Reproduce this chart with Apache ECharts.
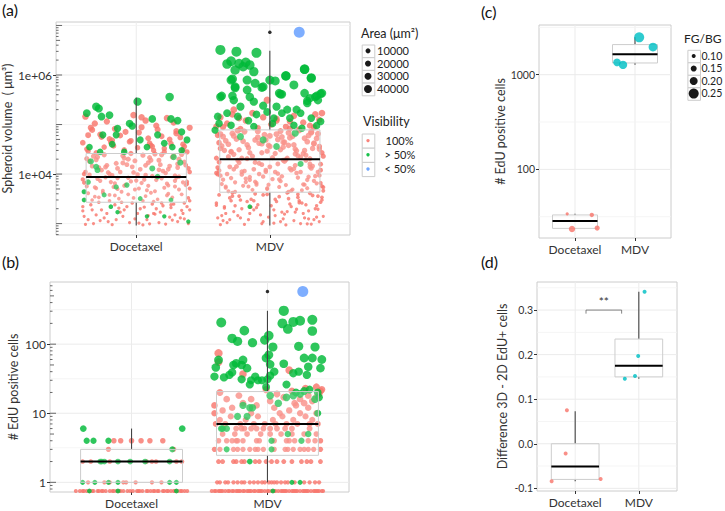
<!DOCTYPE html>
<html>
<head>
<meta charset="utf-8">
<script src="https://cdn.jsdelivr.net/npm/echarts@6/dist/echarts.min.js"></script>
<style>
html, body { margin: 0; padding: 0; background: #fff; }
#chart { width: 725px; height: 511px; }
</style>
</head>
<body>
<div id="chart"></div>
<script>
var groups = ['Docetaxel', 'MDV'];

// (a) spheroid volume in um^3, each point is [jitter, volume]
var volDocFull = [
  [-.38,9.6e2],[-.21,1.1e3],[.05,9.4e2],[.33,1.3e3],[-.07,2.2e3],[.18,1.7e3],[-.30,1.5e3],[.39,1e3],[.12,2.5e3],[-.15,1.2e3],
  [.26,2.1e3],[-.34,2.4e3],[.01,1.6e3],[.22,9.8e2],[-.26,1.9e3],[.36,2.6e3],[-.10,1.4e3],[.08,1.2e3],[-.40,1.8e3],[.29,1.5e3],
  [-.18,9.5e2],[.15,2e3],[-.03,2.6e3],[.31,1.1e3],[-.24,1.3e3],[.40,1.9e3],[-.12,1.7e3],[.10,9.9e2],[-.36,1.2e3],[.20,2.3e3],
  [-.05,1.05e3],[.35,1.6e3],[-.28,2.7e3],[.03,2e3],[.25,1.35e3],[-.16,2.4e3],[.14,1.55e3],[-.32,1e3],[.38,2.2e3],[-.09,1.9e3],
  [.17,1.05e3],[-.22,1.6e3],[.28,2.5e3],[-.01,1.25e3],[.06,2.15e3],
  [-.33,3e3],[.11,4.2e3],[-.17,5.5e3],[.27,3.4e3],[-.04,7.1e3],[.37,6e3],[-.25,4.6e3],[.19,8.2e3],[-.39,6.7e3],[.07,3.6e3],
  [.32,4.9e3],[-.13,3.2e3],[.23,6.4e3],[-.29,8e3],[.02,5.1e3],[-.20,3.8e3],[.40,2.9e3],[-.08,6.1e3],[.15,7.6e3],[-.36,4.1e3],
  [.30,8.5e3],[-.11,4.4e3],[.09,5.8e3],[-.27,7.3e3],[.34,3.9e3],[-.02,3.3e3],[.21,5.3e3],[-.37,5.7e3],[.13,2.8e3],[-.19,6.9e3],
  [.38,7e3],[-.06,8.4e3],[.24,4e3],[-.31,3.5e3],[.04,6.6e3],[-.14,5e3],[.29,5.6e3],[-.23,8.6e3],[.16,3.1e3],[-.40,7.8e3],
  [.08,4.7e3],[.35,6.8e3],[-.16,3.7e3],[.00,7.4e3],[-.30,5.2e3],
  [.12,9.1e3],[-.26,1.2e4],[.31,1.6e4],[-.09,2.1e4],[.22,1.05e4],[-.35,1.8e4],[.05,2.4e4],[.39,1.3e4],[-.18,9.5e3],[.17,1.9e4],
  [-.03,1.4e4],[-.32,2.3e4],[.27,2.2e4],[-.12,1.1e4],[.09,1.7e4],[-.39,1e4],[.34,2.5e4],[-.22,1.5e4],[.01,9.8e3],[.24,1.25e4],
  [-.06,2e4],[.36,1.75e4],[-.28,1.35e4],[.14,2.55e4],[-.15,1.65e4],[.20,1.15e4],[-.37,2.05e4],[.03,1.25e4],[.29,9.3e3],[-.24,2.45e4],
  [.10,2.15e4],[-.01,1.85e4],[.40,1.1e4],[-.33,1.45e4],[.18,1.55e4],[-.10,2.35e4],[.32,2e4],[-.20,1e4],[.07,1.5e4],[-.30,1.95e4],
  [.25,1.45e4],[-.14,1.3e4],
  [-.36,2.9e4],[.21,3.3e4],[-.05,4.5e4],[.33,5.5e4],[-.27,6.3e4],[.11,3.8e4],[-.16,8.2e4],[.38,2.8e4],[.02,6.9e4],[-.40,4.3e4],
  [.26,4.1e4],[-.09,3.1e4],[.15,9.5e4],[-.31,1.05e5],[.30,7.4e4],[-.20,5.1e4],[.07,1.2e5],[-.38,1.45e5],[.36,3.6e4],[-.12,6e4],
  [.19,5.8e4],[-.24,3.5e4],[.04,8.8e4],[.28,1.1e5],[-.02,1.55e5],[-.33,7.8e4],[.13,3e4],[.40,8.6e4],[-.18,4.8e4],[.23,1.35e5],
  [-.27,1.15e3],[.09,1.45e3],[.34,1.85e3],[-.13,2.05e3],[.19,2.6e3],[-.39,1.4e3],[.02,1.02e3],[.27,1.18e3],[-.20,2.9e3],[.39,3.3e3],
  [-.06,3.9e3],[.14,4.5e3],[-.31,5.4e3],[.24,5.9e3],[-.16,6.5e3],[.06,7.7e3],[.32,8.9e3],[-.35,9.7e3],[-.02,1.08e4],[.17,1.22e4],
  [-.23,1.38e4],[.37,1.52e4],[-.10,1.68e4],[.11,1.9e4],[-.29,2.2e4],[.28,2.35e4],[-.04,2.6e4],[.21,2.8e4],[-.37,3.2e4],[.01,3.4e4],
  [.35,4e4],[-.19,4.4e4],[.09,5.3e4],[-.26,5.6e4],[.30,6.6e4],[-.08,7.1e4],[.16,7.9e4],[-.34,8.6e4],[.04,1.4e5],[-.22,1.15e5],
  [.26,2.4e3],[-.11,2.7e3],[.36,1.25e3],[-.33,1.9e3],[.13,1.6e3],[-.01,4.9e3],[.23,3.7e3],[-.25,4.2e3],[.40,5.1e3],[-.14,8.3e3],
  [.07,9.6e3],[-.38,1.1e4],[.31,1.35e4],[-.07,1.55e4],[.19,2.45e4],[-.30,2.7e4],[.35,3.1e4],[-.17,3.7e4],[.10,4.2e4],[-.04,4.7e4],
  [.25,5e4],[-.36,6.1e4],[.12,3.6e4],[-.21,1.08e4],[.29,7.3e3],[-.09,5.8e3],[.38,6.3e3],[-.28,3.4e3],[.05,2.9e3],[-.40,2.2e3]
];
var volDocHalf = [
  [.01,2.9e5],[.25,3.6e5],[-.30,2.3e5],[-.28,2.1e5],[-.37,1.7e5],[-.20,1.55e5],[-.26,1.45e5],[-.05,1.05e5],[.12,1.3e5],[.26,1.3e5],
  [.31,1.2e5],[-.14,8.3e4],[-.03,9.3e4],[-.25,6.2e4],[-.15,6.2e4],[.03,4.9e4],[.16,6.2e4],[.34,7.1e4],[.38,4.9e4],[-.35,3.5e4],
  [-.18,4e4],[.08,3.5e4],[.21,4.2e4],[.27,3.5e4],[-.27,2.8e4],[-.09,2.8e4],[.34,3e4],[-.34,1.8e4],[-.30,1.4e4],[-.39,4.4e3],
  [-.36,6.9e3],[-.39,3e3],[-.24,3.8e3],[-.15,5.5e3],[-.07,6e3],[.03,3.2e3],[.12,1.3e4],[.16,8.9e3],[.28,2.2e4],[.33,1.7e4],
  [.39,1.1e3],[.08,1.4e3],[-.14,1.7e3],[-.19,2.2e3],[.26,3e3],[.21,1.4e3],[-.29,1.2e4]
];
var volMdvFull = [
  [-.37,9.5e2],[-.22,1.3e3],[.08,1.1e3],[.31,9.8e2],[-.10,2.1e3],[.19,1.7e3],[-.33,1.6e3],[.40,1.4e3],[.14,3.2e3],[-.16,1.2e3],
  [.27,2.4e3],[-.29,2.9e3],[.03,1.9e3],[.23,1e3],[-.26,2.3e3],[.36,3.6e3],[-.07,1.5e3],[.10,1.25e3],[-.40,2.6e3],[.29,1.8e3],
  [-.19,9.6e2],[.16,2.2e3],[-.02,3.9e3],[.33,1.2e3],[-.24,1.45e3],[.38,2.7e3],[-.12,1.9e3],[.12,9.4e2],[-.35,1.15e3],[.21,3.4e3],
  [-.05,1.1e3],[.34,2e3],[-.30,3.3e3],[.05,2.8e3],[.25,1.6e3],[-.14,3.1e3],[.15,2.5e3],[-.32,1.05e3],[.39,3e3],[-.09,2.4e3],
  [.18,1.15e3],[-.21,2e3],[.30,4.1e3],[-.01,1.35e3],[.07,3.5e3],[-.38,3.8e3],[.26,1.3e3],[-.17,2.8e3],[.37,1.1e3],[-.27,1.75e3],
  [.01,2.3e3],[.22,2.9e3],[-.11,4e3],[.32,3.7e3],[-.34,2.2e3],[.09,1.7e3],[-.23,3.6e3],[.13,4.2e3],[-.06,1e3],[.35,2.3e3],
  [-.39,1.3e3],[.20,1.95e3],[-.15,1.6e3],[.28,9.9e2],[-.28,4.2e3],[.04,1.45e3],
  [-.31,4.5e3],[.12,6e3],[-.18,8.1e3],[.28,5.2e3],[-.03,1.2e4],[.37,9.4e3],[-.26,6.8e3],[.19,1.5e4],[-.40,1.05e4],[.07,5.5e3],
  [.33,7.3e3],[-.13,4.8e3],[.23,1.1e4],[-.30,1.4e4],[.02,7.9e3],[-.20,5.8e3],[.40,4.6e3],[-.08,1e4],[.15,1.3e4],[-.36,6.3e3],
  [.30,1.6e4],[-.11,7e3],[.09,9e3],[-.27,1.25e4],[.35,6.5e3],[-.02,5e3],[.21,8.5e3],[-.37,9.3e3],[.14,4.4e3],[-.19,1.15e4],
  [.38,1.2e4],[-.06,1.55e4],[.25,6.2e3],[-.33,5.3e3],[.04,1.1e4],[-.15,7.6e3],[.29,8.8e3],[-.23,1.7e4],[.17,4.9e3],[-.39,1.35e4],
  [.08,7.2e3],[.36,1.1e4],[-.16,5.6e3],[.00,1.4e4],[-.29,8.3e3],[.11,1.8e4],[-.24,1.9e4],[.32,1.45e4],[-.10,6.6e3],[.20,1.05e4],
  [-.35,7.7e3],[.27,1.9e4],[-.05,8.9e3],[.39,5.7e3],[-.21,9.8e3],[.06,1.6e4],[-.12,1.25e4],[.24,4.7e3],[-.38,1.75e4],[.16,1.2e4],
  [-.01,6.1e3],[.31,1.3e4],[-.32,1e4],[.10,1.9e4],
  [.13,2.1e4],[-.27,2.5e4],[.32,3.3e4],[-.08,4.2e4],[.23,2.2e4],[-.36,3.7e4],[.06,5e4],[.39,2.7e4],[-.17,2.05e4],[.18,3.9e4],
  [-.02,2.9e4],[-.33,4.7e4],[.28,4.5e4],[-.13,2.3e4],[.10,3.5e4],[-.40,2.1e4],[.35,5.2e4],[-.23,3.1e4],[.02,2.15e4],[.25,2.6e4],
  [-.06,4.1e4],[.37,3.6e4],[-.29,2.8e4],[.15,5.4e4],[-.16,3.4e4],[.21,2.35e4],[-.38,4.3e4],[.04,2.6e4],[.30,2.05e4],[-.25,5.1e4],
  [.11,4.4e4],[-.01,3.8e4],[.40,2.3e4],[-.34,3e4],[.19,3.2e4],[-.11,4.9e4],[.33,4.1e4],[-.21,2.1e4],[.08,3.1e4],[-.31,4e4],
  [.26,3e4],[-.15,2.7e4],[-.04,6.2e4],[.14,6.8e4],[-.35,5.7e4],[.36,6.5e4],[-.19,7.2e4],[.22,7.6e4],[.00,5.9e4],[-.28,6.6e4],
  [.31,7.1e4],[-.09,5.5e4],[.08,7.4e4],[-.39,6.1e4],[.17,5.8e4],[-.24,7.5e4],[.29,6e4],[.05,6.4e4],
  [-.27,2e5],[-.02,3.1e5],[.34,1.6e5],[.39,1.7e5],[-.37,1.4e5],[-.18,1.2e5],[.12,9e4],[.25,1.1e5],[-.09,8.5e4],[.30,9.5e4],
  [-.32,1.05e5],[.05,1.3e5],[-.22,8.2e4],[.18,1.5e5],[-.13,1.7e5],[.37,1.25e5],[.01,1e5],[-.40,9.2e4],[.22,8e4],[-.05,1.4e5],
  [.15,1.15e5],[-.28,1.6e5],[.33,8.8e4],
  [-.30,1.2e3],[.11,1.55e3],[.36,1.95e3],[-.14,2.15e3],[.22,2.65e3],[-.36,1.45e3],[.03,1.02e3],[.29,1.25e3],[-.22,3e3],[.39,3.4e3],
  [-.05,3.8e3],[.16,4.6e3],[-.33,5.6e3],[.26,6.1e3],[-.18,6.9e3],[.07,7.8e3],[.34,9.1e3],[-.39,9.9e3],[-.03,1.12e4],[.18,1.28e4],
  [-.25,1.42e4],[.38,1.58e4],[-.11,1.72e4],[.12,1.95e4],[-.31,2.25e4],[.27,2.4e4],[-.06,2.7e4],[.20,2.95e4],[-.37,3.3e4],[.00,3.6e4],
  [.33,4.2e4],[-.20,4.6e4],[.09,5.6e4],[-.27,5.9e4],[.31,6.9e4],[-.09,7.3e4],[.15,8.3e4],[-.35,8.9e4],[.05,1.2e5],[-.23,1.35e5],
  [.24,2.6e3],[-.12,2.9e3],[.35,1.35e3],[-.34,2.05e3],[.13,1.75e3],[-.02,5.2e3],[.21,3.9e3],[-.26,4.4e3],[.40,5.4e3],[-.15,8.7e3],
  [.06,1.02e4],[-.38,1.18e4],[.30,1.4e4],[-.08,1.65e4],[.19,2.55e4],[-.29,2.85e4],[.37,3.2e4],[-.17,3.9e4],[.10,4.4e4],[-.03,4.9e4],
  [.26,5.3e4],[-.37,6.4e4],[.14,3.8e4],[-.21,1.12e4],[.28,7.6e3],[-.10,6.1e3],[.38,6.6e3],[-.28,3.6e3],[.04,3.1e3],[-.40,2.35e3]
];
var volMdvHalf = [
  [-.37,3.2e6],[-.25,2.95e6],[-.10,2.8e6],[-.32,1.67e6],[-.29,1.9e6],[-.23,1.7e6],[-.18,1.8e6],[-.15,1.59e6],[-.20,1.47e6],[-.26,1.26e6],
  [-.12,1.17e6],[.26,1.32e6],[-.28,8.3e5],[-.17,7.9e5],[.00,7.9e5],[.12,9.7e5],[.31,8.8e5],[-.05,5.8e5],[-.26,5.5e5],[-.36,3.8e5],
  [-.28,3.8e5],[-.15,3.6e5],[.07,4.3e5],[.09,4.1e5],[.28,3e5],[.30,3.4e5],[.35,3.8e5],[.39,4.3e5],
  [-.29,7.9e5],[-.26,5.8e5],[-.17,5e5],[-.11,6.8e5],[-.06,5.6e5],[.04,7.6e5],[.12,9.5e5],[.08,4.1e5],[.18,6.3e5],[.26,1.3e6],
  [.31,8.6e5],[.26,4.3e5],[.34,3.6e5],[.38,4.2e5],[.36,3.1e5],[-.37,3.6e5],[-.27,3.1e5],[-.22,2.3e5],[-.12,2.9e5],[-.05,2.4e5],
  [.05,2.3e5],[.13,2e5],[.20,2e5],[.28,2.7e5],[-.39,1.45e5],[-.32,1.7e5],[-.24,1.45e5],[-.16,1.2e5],[-.10,1.6e5],[-.02,1.8e5],
  [.03,1.35e5],[.09,1.7e5],[.15,1.35e5],[.23,1.7e5],[.31,1.35e5],[.38,1.15e5],[-.38,1.05e5],[-.29,9.7e4],[-.12,9.1e4],[.02,1.05e5],
  [.18,9.7e4],[.35,9.5e4],[.19,6.7e4],[.24,8.4e4],[.05,3.6e4],[.23,1.6e4],[-.15,2.2e3],[-.41,7.7e4],[-.22,5.7e4],[-.05,4.9e4]
];
var volMdvLow = [[.22,7.3e6]];
// box stats: [low whisker, q1, median, q3, high whisker]
var volBox = [[920, 2700, 8700, 26000, 350000], [920, 4300, 20000, 78000, 3100000]];
var volOut = [[0, 7.3e6]];

// (b) EdU positive cells per spheroid, each point is [jitter, count]; 0 is drawn at 0.75
var eduDocFull = [
  [-.13,4],[-.08,4],[.00,4],[.07,4],[.135,4],[.23,4],[-.17,3],[.31,3],
  [-.36,2],[-.30,2],[-.16,2],[.11,2],[.15,2],[.18,2],[.33,2],[.37,2],
  [-.32,1],[-.20,1],[-.16,1],[-.06,1],[-.04,1],[.03,1],[.15,1],[.22,1],
  [-.41,0],[-.38,0],[-.36,0],[-.35,0],[-.31,0],[-.29,0],[-.28,0],[-.25,0],[-.22,0],[-.21,0],[-.19,0],[-.16,0],[-.14,0],[-.13,0],
  [-.09,0],[-.08,0],[-.06,0],[-.03,0],[-.01,0],[.01,0],[.04,0],[.05,0],[.08,0],[.11,0],[.12,0],[.14,0],[.17,0],[.19,0],[.20,0],
  [.23,0],[.26,0],[.27,0],[.29,0],[.31,0],[.34,0],[.36,0],[.37,0],[.39,0],[.41,0],[-.33,0],[-.24,0],[-.11,0],[.06,0],[.16,0],[.24,0],[.32,0]
];
var eduDocHalf = [
  [-.355,6],[.373,6],[-.33,4],[-.28,4],[-.17,4],[.30,3],
  [-.23,2],[-.22,2],[-.20,2],[-.10,2],[-.01,2],[.10,2],[.28,2],
  [-.36,1],[-.27,1],[-.17,1],[-.10,1],[.28,1],[.33,1],
  [-.31,0],[-.10,0],[.33,0]
];
var eduMdvFull = [
  [-.37,1],[-.35,1],[-.31,1],[-.29,1],[-.25,1],[-.22,1],[-.19,1],[-.17,1],[-.13,1],[-.10,1],[-.07,1],[-.04,1],[-.02,1],
  [.01,1],[.03,1],[.05,1],[.07,1],[.10,1],[.13,1],[.15,1],[.20,1],[.27,1],[.31,1],[.35,1],[.38,1],
  [-.36,2],[-.33,2],[-.25,2],[-.23,2],[-.19,2],[-.17,2],[-.09,2],[-.06,2],[-.01,2],[.03,2],[.07,2],[.12,2],[.18,2],[.25,2],[.29,2],[.32,2],[.39,2],
  [-.39,3],[-.35,3],[-.25,3],[-.22,3],[-.18,3],[-.13,3],[-.09,3],[-.07,3],[-.03,3],[.05,3],[.13,3],[.15,3],[.19,3],[.24,3],[.27,3],[.30,3],[.34,3],[.39,3],
  [-.36,4],[-.30,4],[-.26,4],[-.23,4],[-.22,4],[-.18,4],[-.08,4],[-.06,4],[.05,4],[.14,4],[.16,4],[.20,4],[.30,4],[.35,4],[.39,4],
  [-.33,5],[-.24,5],[-.15,5],[-.05,5],[.02,5],[.10,5],[.18,5],[.27,5],[.36,5],
  [-.23,6],[-.19,6],[-.17,6],[-.12,6],[-.08,6],[-.03,6],[.02,6],[.07,6],[.13,6],[.18,6],[.31,6],
  [-.38,7],[-.31,7],[-.20,7],[-.10,7],[-.02,7],[.06,7],[.14,7],[.22,7],[.31,7],[.37,7],
  [-.35,8],[-.16,8],[.04,8],[.19,8],[.33,8],[-.27,9],[-.07,9],[.11,9],[.28,9],
  [-.39,10],[-.12,10],[.09,10],[.24,10],[.36,10],
  [-.33,11],[.16,11],[-.26,12],[.05,12],[.30,12],[-.39,13],[-.08,13],[.21,13],[.27,14],[-.18,14],[.33,15],[.02,15],
  [-.30,16],[.24,16],[.12,17],[.36,17],[-.21,18],[.30,18],[.07,19],[.38,19],[-.35,20],[.39,21],[.18,21],[-.01,22],
  [.40,22],[.28,23],[.36,24],[-.12,16],[.20,14],[-.36,74],[-.36,55],[.16,42],[-.18,37],
  [-.41,0],[-.39,0],[-.38,0],[-.36,0],[-.34,0],[-.33,0],[-.31,0],[-.29,0],[-.28,0],[-.26,0],[-.25,0],[-.23,0],[-.21,0],[-.20,0],
  [-.18,0],[-.17,0],[-.15,0],[-.13,0],[-.12,0],[-.10,0],[-.09,0],[-.07,0],[-.05,0],[-.04,0],[-.02,0],[.00,0],[.01,0],[.03,0],
  [.05,0],[.06,0],[.08,0],[.10,0],[.11,0],[.13,0],[.14,0],[.16,0],[.18,0],[.19,0],[.21,0],[.22,0],[.24,0],[.26,0],[.27,0],
  [.29,0],[.30,0],[.32,0],[.34,0],[.35,0],[.37,0],[.38,0],[.40,0],[.41,0],[-.35,0],[-.22,0],[-.14,0],[-.06,0],[.12,0],[.20,0],[.28,0],[.36,0]
];
var eduMdvHalf = [
  [-.34,206],[-.17,157],[-.26,121],[-.22,110],[-.11,105],[-.02,115],[.01,133],[.04,91],[.12,304],[.11,200],
  [.15,166],[.19,210],[.24,218],[.33,225],[.33,155],[.23,93],[.35,91],[.01,70],[-.01,63],
  [-.36,59],[-.38,46],[-.39,34],[-.25,50],[-.23,53],[-.19,50],[-.18,59],[-.15,45],[-.32,33],[-.28,36],
  [-.26,39],[-.19,31],[-.13,26],[-.09,34],[-.07,30],[-.04,30],[.02,51],[.02,35],[.05,40],[.12,52],
  [.14,26],[.19,38],[.23,40],[.27,63],[.29,36],[.30,47],[.33,63],[.39,45],[.40,60],[.00,31],[-.01,24],[-.12,30],
  [-.18,13],[-.13,12],[-.11,12],[-.22,9],[-.33,6],[-.30,6],[.08,14],[.14,17],[.19,18],[.24,19],[.27,21],[.37,20],
  [.38,17],[.37,10],[.02,18],[-.30,3],[.03,3],[.25,4],[.03,4],[-.34,6],[.15,5],[.30,5],[-.13,2],[.24,1],[.18,1],
  [.04,0],[-.15,9],[.31,22],[.21,20],[.35,16]
];
var eduMdvLow = [[.26,578]];
var eduBox = [[1, 1, 2, 3, 6], [1, 2.46, 7, 20.6, 304]];
var eduOut = [[0, 578]];

// (c) EdU positive cells per culture, [jitter, cells] plus FG/BG ratio
var cellsDoc = [[-.13,33.9],[.28,33.0],[-.05,23.4],[.37,24.0]];
var cellsMdv = [[.07,2480],[.30,1960],[-.30,1350],[-.20,1270]];
var fgbgDoc = [0.08, 0.11, 0.16, 0.13];
var fgbgMdv = [0.25, 0.22, 0.19, 0.21];
var cellsBox = [[23.4, 23.8, 28.4, 33.0, 33.9], [1270, 1330, 1640, 2080, 2480]];

// (d) difference 3D - 2D EdU+ cells, [jitter, difference]
var diffDoc = [[-.13,0.075],[-.15,-0.022],[-.37,-0.084],[.40,-0.079]];
var diffMdv = [[.09,0.341],[-.01,0.197],[-.22,0.146],[-.06,0.152]];
var diffBox = [[-0.084, -0.080, -0.051, 0.000, 0.073], [0.146, 0.150, 0.175, 0.235, 0.341]];
var diffSig = '**';

var RED = '#F8766D', GREEN = '#00BA38', BLUE = '#619CFF', TEAL = '#00BFC4';
var FONT = 'Lato';
var TXT = '#333';

function lg(v) { return Math.log10(v); }
function lgCount(v) { return Math.log10(v > 0 ? v : 0.75); }
function same(v) { return v; }

// grids: (a) (b) (c) (d)
var grids = [
  { left: 55, top: 22, width: 295, height: 213 },
  { left: 50, top: 282, width: 299, height: 210 },
  { left: 539, top: 25, width: 132, height: 213 },
  { left: 537, top: 282, width: 140, height: 209 }
];
var yRanges = [[2.77, 7.07], [-0.14, 2.90], [1.275, 3.525], [-0.106, 0.363]];

function place(arr, g, tf) {
  return arr.map(function (p) { return [g + p[0], tf(p[1])]; });
}

function sizeVol(val) { return Math.max(3.2, 2.8 + 1.75 * (val[1] - 3)); }
function sizeEdu(val) { return 4 + 2.1 * (val[1] + 0.125); }

function dots(i, name, data, color, sizeFn, z) {
  return {
    type: 'scatter', name: name, xAxisIndex: i, yAxisIndex: i, z: z || 3,
    data: data, symbolSize: sizeFn, silent: true,
    itemStyle: { color: color, opacity: 0.82 }
  };
}

function boxes(i, stats, tf) {
  return {
    type: 'custom', xAxisIndex: i, yAxisIndex: i, z: 6, silent: true,
    data: stats.map(function (s, k) { return [k + 1].concat(s.map(function (v) { return tf(v); })); }),
    renderItem: function (params, api) {
      var x = api.value(0);
      var lo = api.coord([x, api.value(1)]);
      var q1 = api.coord([x, api.value(2)]);
      var md = api.coord([x, api.value(3)]);
      var q3 = api.coord([x, api.value(4)]);
      var hi = api.coord([x, api.value(5)]);
      var half = api.size([0.375, 0])[0];
      var wl = { stroke: '#444', lineWidth: 1.1 };
      return {
        type: 'group',
        children: [
          { type: 'line', shape: { x1: hi[0], y1: hi[1], x2: q3[0], y2: q3[1] }, style: wl },
          { type: 'line', shape: { x1: lo[0], y1: lo[1], x2: q1[0], y2: q1[1] }, style: wl },
          { type: 'rect', shape: { x: md[0] - half, y: q3[1], width: half * 2, height: q1[1] - q3[1] },
            style: { fill: 'rgba(255,255,255,0.2)', stroke: '#cdcdcd', lineWidth: 1 } },
          { type: 'line', shape: { x1: md[0] - half, y1: md[1], x2: md[0] + half, y2: md[1] },
            style: { stroke: '#000', lineWidth: 2 } }
        ]
      };
    }
  };
}

// light panel grid lines: [orientation (0 horizontal, 1 vertical), value, major]
function gridLines(i, majors, minors) {
  var rows = [[1, 1, 1], [1, 2, 1]];
  majors.forEach(function (v) { rows.push([0, v, 1]); });
  minors.forEach(function (v) { rows.push([0, v, 0]); });
  var yr = yRanges[i];
  return {
    type: 'custom', xAxisIndex: i, yAxisIndex: i, z: 1, silent: true, data: rows,
    renderItem: function (params, api) {
      var o = api.value(0), v = api.value(1), major = api.value(2);
      var a = o ? api.coord([v, yr[0]]) : api.coord([0.4, v]);
      var b = o ? api.coord([v, yr[1]]) : api.coord([2.6, v]);
      return { type: 'line', shape: { x1: a[0], y1: a[1], x2: b[0], y2: b[1] },
        style: { stroke: major ? '#ebebeb' : '#f2f2f2', lineWidth: major ? 1 : 0.8 } };
    }
  };
}

// log10 tick marks along the inner left edge
function logTicks(i) {
  var yr = yRanges[i], rows = [];
  for (var d = Math.floor(yr[0]); d <= Math.ceil(yr[1]); d++) {
    for (var k = 1; k <= 9; k++) {
      var v = d + Math.log10(k);
      if (v >= yr[0] && v <= yr[1]) rows.push([v, k === 1 ? 6 : (k === 5 ? 4 : 2.5)]);
    }
  }
  return {
    type: 'custom', xAxisIndex: i, yAxisIndex: i, z: 7, silent: true, data: rows,
    renderItem: function (params, api) {
      var p = api.coord([0.4, api.value(0)]);
      return { type: 'line', shape: { x1: p[0], y1: p[1], x2: p[0] + api.value(1), y2: p[1] },
        style: { stroke: '#444', lineWidth: 0.8 } };
    }
  };
}

function sigBracket(i) {
  return {
    type: 'custom', xAxisIndex: i, yAxisIndex: i, z: 7, silent: true,
    data: [[1.17, 1.73, 0.300, 0.292]],
    renderItem: function (params, api) {
      var a = api.coord([api.value(0), api.value(2)]);
      var b = api.coord([api.value(1), api.value(2)]);
      var a2 = api.coord([api.value(0), api.value(3)]);
      var b2 = api.coord([api.value(1), api.value(3)]);
      return {
        type: 'group',
        children: [
          { type: 'polyline', shape: { points: [a2, a, b, b2] }, style: { stroke: '#666', lineWidth: 0.8, fill: null } },
          { type: 'text', style: { text: diffSig, x: (a[0] + b[0]) / 2, y: a[1] - 3, align: 'center',
            verticalAlign: 'bottom', fill: TXT, font: '12px ' + FONT } }
        ]
      };
    }
  };
}

var yLabelFmt = [
  function (v) { return '1e+0' + Math.round(v); },
  function (v) { return String(Math.round(Math.pow(10, v))); },
  function (v) { return String(Math.round(Math.pow(10, v))); },
  function (v) { return v.toFixed(1); }
];
var yLabelVals = [[4, 6], [0, 1, 2], [2, 3], [-0.1, 0, 0.1, 0.2, 0.3]];
var yNames = ['Spheroid volume  ( \u03bcm\u00b3)', '# EdU positive cells', '# EdU positive cells', 'Difference 3D - 2D EdU+ cells'];
var yNameGaps = [36, 30, 30, 28];
var yLabelSize = [12, 12, 10.5, 10.5];

var xAxes = grids.map(function (g, i) {
  return {
    gridIndex: i, type: 'value', min: 0.4, max: 2.6,
    axisLine: { show: false, onZero: false }, splitLine: { show: false },
    axisTick: { show: true, customValues: [1, 2], length: 3, lineStyle: { color: TXT } },
    axisLabel: { customValues: [1, 2], margin: 5, color: TXT, fontSize: 12, fontFamily: FONT,
      formatter: function (v) { return groups[Math.round(v) - 1]; } }
  };
});
var yAxes = grids.map(function (g, i) {
  return {
    gridIndex: i, type: 'value', min: yRanges[i][0], max: yRanges[i][1],
    axisLine: { show: false, onZero: false }, splitLine: { show: false },
    axisTick: { show: true, customValues: yLabelVals[i], length: 3, lineStyle: { color: TXT } },
    axisLabel: { customValues: yLabelVals[i], margin: 4, color: TXT, fontSize: yLabelSize[i], fontFamily: FONT,
      formatter: yLabelFmt[i] },
    name: yNames[i], nameLocation: 'middle', nameGap: yNameGaps[i],
    nameTextStyle: { color: TXT, fontSize: 12.5, fontFamily: FONT }
  };
});

var series = [
  gridLines(0, [4, 6], [3, 5, 7]),
  gridLines(1, [0, 1, 2], [0.5, 1.5, 2.5]),
  gridLines(2, [2, 3], [1.5, 2.5, 3.5]),
  gridLines(3, [-0.1, 0, 0.1, 0.2, 0.3], [-0.05, 0.05, 0.15, 0.25, 0.35]),

  dots(0, '100%', place(volDocFull, 1, lg).concat(place(volMdvFull, 2, lg)), RED, sizeVol),
  dots(0, '> 50%', place(volDocHalf, 1, lg).concat(place(volMdvHalf, 2, lg)), GREEN,
    function (v) { return sizeVol(v) + 1.2; }, 4),
  dots(0, '< 50%', place(volMdvLow, 2, lg), BLUE, function () { return 11; }, 4),
  boxes(0, volBox, lg),
  dots(0, 'outlier', place(volOut, 2, lg), '#000', function () { return 3.5; }, 7),
  logTicks(0),

  dots(1, '100%', place(eduDocFull, 1, lgCount).concat(place(eduMdvFull, 2, lgCount)), RED, sizeEdu),
  dots(1, '> 50%', place(eduDocHalf, 1, lgCount).concat(place(eduMdvHalf, 2, lgCount)), GREEN,
    function (v) { return sizeEdu(v) + 0.8; }, 4),
  dots(1, '< 50%', place(eduMdvLow, 2, lgCount), BLUE, function () { return 11; }, 4),
  boxes(1, eduBox, lg),
  dots(1, 'outlier', place(eduOut, 2, lgCount), '#000', function () { return 3.5; }, 7),
  logTicks(1),

  boxes(2, cellsBox, lg),
  dots(2, 'Docetaxel', place(cellsDoc, 1, lg).map(function (p, k) { return p.concat(fgbgDoc[k]); }), RED,
    function (v) { return 40 * v[2]; }, 7),
  dots(2, 'MDV', place(cellsMdv, 2, lg).map(function (p, k) { return p.concat(fgbgMdv[k]); }), TEAL,
    function (v) { return 40 * v[2]; }, 7),

  boxes(3, diffBox, same),
  dots(3, 'Docetaxel', place(diffDoc, 1, same), RED, function () { return 4; }, 7),
  dots(3, 'MDV', place(diffMdv, 2, same), TEAL, function () { return 4; }, 7),
  sigBracket(3)
];

// legends and panel tags
function keyBox(x, y, h) {
  return { type: 'rect', left: x, top: y, shape: { width: 12.6, height: h },
    style: { fill: '#fff', stroke: '#cccccc', lineWidth: 1 } };
}
function keyDot(cx, cy, d, color) {
  return { type: 'circle', shape: { cx: cx, cy: cy, r: d / 2 }, style: { fill: color, opacity: 0.9 } };
}
function label(text, x, y, size, extra) {
  return { type: 'text', left: x, top: y, style: Object.assign({ text: text, fill: '#222', font: size + 'px ' + FONT }, extra || {}) };
}

var areaKeys = ['10000', '20000', '30000', '40000'];
var areaDots = [5, 6, 7, 8];
var visKeys = ['100%', '> 50%', '< 50%'];
var visColors = [RED, GREEN, BLUE];
var fgbgKeys = ['0.10', '0.15', '0.20', '0.25'];
var fgbgDots = [4, 6, 8, 10];

var graphics = [
  label('(a)', 2, 1, 16, { fill: '#111' }),
  label('(b)', 2, 253, 16, { fill: '#111' }),
  label('(c)', 481, 3, 16, { fill: '#111' }),
  label('(d)', 481, 253, 16, { fill: '#111' }),
  label('Area (\u03bcm\u00b2)', 361, 27, 12.5),
  label('Visibility', 363, 115, 12.5),
  label('FG/BG', 684, 32, 12)
];
areaKeys.forEach(function (t, k) {
  var y = 44.5 + k * 12.7;
  graphics.push(keyBox(361.7, y, 12.7));
  graphics.push(keyDot(368, y + 6.35, areaDots[k], '#000'));
  graphics.push(label(t, 377, y + 0.5, 11));
});
visKeys.forEach(function (t, k) {
  var y = 133.5 + k * 14.2;
  graphics.push(keyBox(361.7, y, 14.2));
  graphics.push(keyDot(368, y + 7.1, 3.4, visColors[k]));
  graphics.push(label(t, t === '100%' ? 385.5 : 384.5, y + 1.5, 11));
});
fgbgKeys.forEach(function (t, k) {
  var y = 49.8 + k * 12.5;
  graphics.push(keyBox(687.4, y, 12.5));
  graphics.push(keyDot(693.7, y + 6.25, fgbgDots[k], '#000'));
  graphics.push(label(t, 701.5, y + 0.5, 10.5));
});

var chart = echarts.init(document.getElementById('chart'), null, { renderer: 'svg' });
chart.setOption({
  animation: false,
  backgroundColor: '#fff',
  textStyle: { fontFamily: FONT },
  grid: grids.map(function (g) {
    return Object.assign({ show: true, borderColor: '#cccccc', borderWidth: 1, backgroundColor: '#fff' }, g);
  }),
  xAxis: xAxes,
  yAxis: yAxes,
  series: series,
  graphic: graphics
});
</script>
</body>
</html>
